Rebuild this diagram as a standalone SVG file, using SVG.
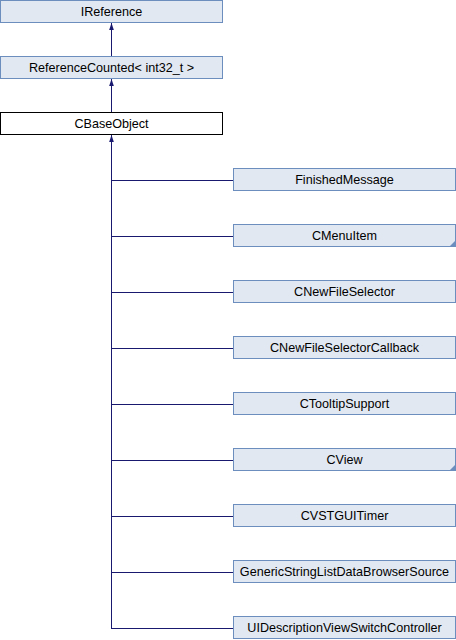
<svg xmlns="http://www.w3.org/2000/svg" width="456" height="640" viewBox="0 0 456 640">
<defs>
<style>
.n{fill:#E2E8F2;stroke:#6C8EBF;stroke-width:1}
.w{fill:#FFFFFF;stroke:#000000;stroke-width:1}
.t{font-family:"Liberation Sans",Arial,Helvetica,sans-serif;font-size:12.6px;fill:#000;text-anchor:middle}
.e{fill:none;stroke:#191970;stroke-width:1}
.c{fill:#6C8EBF}
</style>
<marker id="ah" markerWidth="7" markerHeight="9" refX="9" refY="3.5" orient="auto" markerUnits="userSpaceOnUse" viewBox="0 0 9 7">
<path d="M0,0.5 L9,3.5 L0,6.5 Z" fill="#191970"/>
</marker>
</defs>
<rect width="456" height="640" fill="#FFFFFF"/>
<g id="edges">
<line class="e" x1="111.5" y1="57" x2="111.5" y2="23" marker-end="url(#ah)"/>
<line class="e" x1="111.5" y1="113" x2="111.5" y2="79" marker-end="url(#ah)"/>
<path class="e" d="M111.5,628.5 L111.5,135" marker-end="url(#ah)"/>
<path class="e" d="M111,180.5 H233 M111,236.5 H233 M111,292.5 H233 M111,348.5 H233 M111,404.5 H233 M111,460.5 H233 M111,516.5 H233 M111,572.5 H233 M111,628.5 H233"/>
</g>
<g id="IReference"><rect class="n" x="0.5" y="0.5" width="222" height="22"/><text class="t" x="111.5" y="16">IReference</text></g>
<g id="ReferenceCounted"><rect class="n" x="0.5" y="56.5" width="222" height="22"/><text class="t" x="111.5" y="72">ReferenceCounted&lt; int32_t &gt;</text></g>
<g id="CBaseObject"><rect class="w" x="0.5" y="112.5" width="222" height="22"/><text class="t" x="111.5" y="128">CBaseObject</text></g>
<g id="FinishedMessage"><rect class="n" x="233.5" y="168.5" width="222" height="22"/><text class="t" x="344.5" y="184">FinishedMessage</text></g>
<g id="CMenuItem"><rect class="n" x="233.5" y="224.5" width="222" height="22"/><path class="c" d="M455,241 L455,246 L450,246 Z"/><text class="t" x="344.5" y="240">CMenuItem</text></g>
<g id="CNewFileSelector"><rect class="n" x="233.5" y="280.5" width="222" height="22"/><text class="t" x="344.5" y="296">CNewFileSelector</text></g>
<g id="CNewFileSelectorCallback"><rect class="n" x="233.5" y="336.5" width="222" height="22"/><text class="t" x="344.5" y="352">CNewFileSelectorCallback</text></g>
<g id="CTooltipSupport"><rect class="n" x="233.5" y="392.5" width="222" height="22"/><text class="t" x="344.5" y="408">CTooltipSupport</text></g>
<g id="CView"><rect class="n" x="233.5" y="448.5" width="222" height="22"/><path class="c" d="M455,465 L455,470 L450,470 Z"/><text class="t" x="344.5" y="464">CView</text></g>
<g id="CVSTGUITimer"><rect class="n" x="233.5" y="504.5" width="222" height="22"/><text class="t" x="344.5" y="520">CVSTGUITimer</text></g>
<g id="GenericStringListDataBrowserSource"><rect class="n" x="233.5" y="560.5" width="222" height="22"/><text class="t" x="344.5" y="576">GenericStringListDataBrowserSource</text></g>
<g id="UIDescriptionViewSwitchController"><rect class="n" x="233.5" y="616.5" width="222" height="22"/><text class="t" x="344.5" y="632">UIDescriptionViewSwitchController</text></g>
</svg>
